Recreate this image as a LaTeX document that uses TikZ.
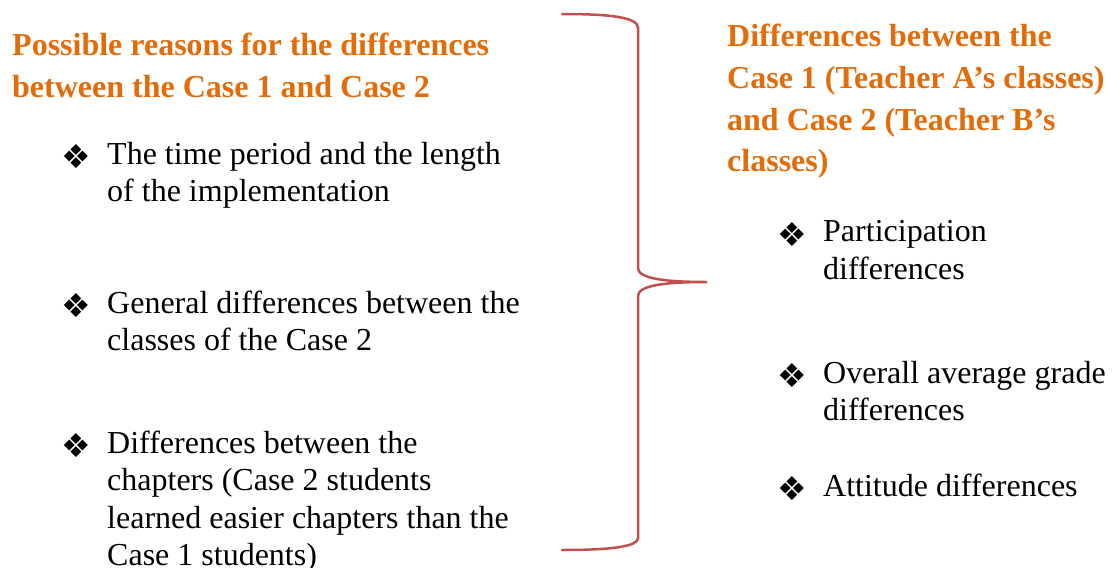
\documentclass[tikz,border=0pt]{standalone}
\usepackage{fontspec}
\setmainfont{Liberation Serif}
\newfontfamily\dejavu{DejaVu Sans}
\usepackage{xcolor}
\definecolor{headorange}{HTML}{E36C0A}
\definecolor{bracered}{HTML}{C0504D}

\tikzset{
  head/.style={anchor=base west, align=left, inner sep=0pt, text=headorange,
    font=\fontsize{32}{41.7}\selectfont\bfseries},
  item/.style={anchor=base west, align=left, inner sep=0pt,
    font=\fontsize{32}{37.5}\selectfont},
  diam/.style={anchor=base west, inner sep=0pt, font=\dejavu\fontsize{33}{33}\selectfont},
}

\begin{document}
\begin{tikzpicture}[x=1pt, y=-1pt]
    \useasboundingbox (0,0) rectangle (1112,568);
    % left column: reasons (node base = last line)
    \node[head] (reasons) at (12,97.4) {Possible reasons for the differences\\between the Case 1 and Case 2};
    \node[diam] (b1) at (61,168.5) {❖};
    \node[item] (r1) at (107,201.5) {The time period and the length\\of the implementation};
    \node[diam] (b2) at (61,317.5) {❖};
    \node[item] (r2) at (107,350.5) {General differences between the\\classes of the Case 2};
    \node[diam] (b3) at (61,457.5) {❖};
    \node[item] (r3) at (107,565.5) {Differences between the\\chapters (Case 2 students\\learned easier chapters than the\\Case 1 students)};
    % brace
    \draw[bracered, line width=2.5pt, line cap=round]
      (562,14) .. controls (615,14) and (638,18) .. (638,28) -- (638,268)
      .. controls (638,278) and (662,282) .. (707,282)
      .. controls (662,282) and (638,286) .. (638,296) -- (638,538)
      .. controls (638,546) and (615,550) .. (562,550);
    % right column: differences
    \node[head] (diffs) at (727,171.8) {Differences between the\\Case 1 (Teacher A’s classes)\\and Case 2 (Teacher B’s\\classes)};
    \node[diam] (d1) at (777,246.2) {❖};
    \node[item] (p1) at (823,279.2) {Participation\\differences};
    \node[diam] (d2) at (777,387.8) {❖};
    \node[item] (p2) at (823,420.8) {Overall average grade\\differences};
    \node[diam] (d3) at (777,500.5) {❖};
    \node[item] (p3) at (823,496) {Attitude differences};
\end{tikzpicture}
\end{document}
